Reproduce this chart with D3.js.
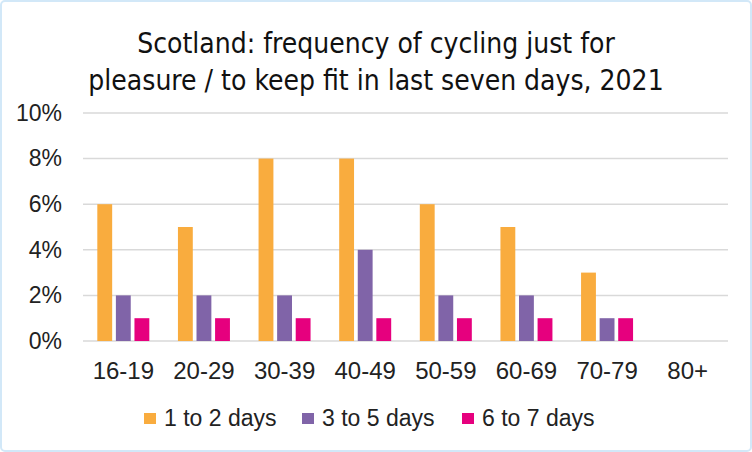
<!DOCTYPE html>
<html>
<head>
<meta charset="utf-8">
<script src="https://cdn.jsdelivr.net/npm/d3@7"></script>
<style>
  body { margin: 0; background: #fff; }
  svg { display: block; }
</style>
</head>
<body>
<svg id="chart"></svg>
<script>
var ageGroups = ["16-19", "20-29", "30-39", "40-49", "50-59", "60-69", "70-79", "80+"];
var seriesNames = ["1 to 2 days", "3 to 5 days", "6 to 7 days"];
var seriesColors = ["#f9ac3e", "#8064a8", "#e6007e"];
var oneToTwo = [6, 5, 8, 8, 6, 5, 3, null];
var threeToFive = [2, 2, 2, 4, 2, 2, 1, null];
var sixToSeven = [1, 1, 1, 1, 1, 1, 1, null];
var yTicks = [0, 2, 4, 6, 8, 10];

var width = 752, height = 452;
var margin = {top: 113, right: 24, bottom: 111, left: 83};

var svg = d3.select("#chart")
            .attr("width", width)
            .attr("height", height);

svg.append("rect")
   .attr("x", 1).attr("y", 1)
   .attr("width", width - 2).attr("height", height - 2)
   .attr("rx", 4)
   .attr("fill", "#fff")
   .attr("stroke", "#d2e8f8")
   .attr("stroke-width", 2);

var title = svg.append("text")
               .attr("x", width / 2)
               .attr("text-anchor", "middle")
               .attr("font-family", "'Liberation Sans Narrow', 'DejaVu Sans Condensed', sans-serif")
               .attr("font-size", "28px")
               .attr("fill", "#111");
title.append("tspan").attr("x", width / 2).attr("y", 53).text("Scotland: frequency of cycling just for");
title.append("tspan").attr("x", width / 2).attr("y", 90).text("pleasure / to keep fit in last seven days, 2021");

var x = d3.scaleBand()
          .domain(ageGroups)
          .range([margin.left, width - margin.right]);

var y = d3.scaleLinear()
          .domain([0, 10])
          .range([height - margin.bottom, margin.top]);

var inner = d3.scaleBand()
              .domain(seriesNames)
              .range([0, 52])
              .paddingInner(0.2);

// gridlines
svg.append("g")
   .selectAll("line")
   .data(yTicks)
   .enter()
   .append("line")
   .attr("x1", margin.left)
   .attr("x2", width - margin.right)
   .attr("y1", d => y(d))
   .attr("y2", d => y(d))
   .attr("stroke", "#d9d9d9")
   .attr("stroke-width", 1.5);

var font = "'Liberation Sans', Arial, sans-serif";

var yAxis = svg.append("g")
   .attr("transform", "translate(" + margin.left + ",0)")
   .call(d3.axisLeft(y).tickValues(yTicks).tickFormat(d => d + "%").tickSize(0).tickPadding(21));
yAxis.select(".domain").remove();
yAxis.selectAll("text")
     .attr("font-family", font)
     .attr("font-size", "23px")
     .attr("fill", "#222");

var xAxis = svg.append("g")
   .attr("transform", "translate(0," + (height - margin.bottom) + ")")
   .call(d3.axisBottom(x).tickSize(0).tickPadding(21));
xAxis.select(".domain").remove();
xAxis.selectAll("text")
     .attr("font-family", font)
     .attr("font-size", "24px")
     .attr("fill", "#222");

var series = [oneToTwo, threeToFive, sixToSeven];
var barData = [];
series.forEach(function(vals, s) {
    vals.forEach(function(v, i) {
        if (v !== null) barData.push({age: ageGroups[i], name: seriesNames[s], value: v, color: seriesColors[s]});
    });
});

svg.append("g")
   .selectAll("rect")
   .data(barData)
   .enter()
   .append("rect")
   .attr("x", d => x(d.age) + x.bandwidth() / 2 - 26 + inner(d.name))
   .attr("width", inner.bandwidth())
   .attr("y", d => y(d.value))
   .attr("height", d => y(0) - y(d.value))
   .attr("fill", d => d.color);

// legend
var legendX = [144, 302, 462];
var legend = svg.append("g")
                .selectAll("g")
                .data(seriesNames)
                .enter()
                .append("g")
                .attr("transform", (d, i) => "translate(" + legendX[i] + ",413)");
legend.append("rect")
      .attr("width", 12).attr("height", 11)
      .attr("fill", (d, i) => seriesColors[i]);
legend.append("text")
      .attr("x", 20)
      .attr("y", 13)
      .attr("font-family", font)
      .attr("font-size", "23px")
      .attr("fill", "#222")
      .text(d => d);
</script>
</body>
</html>
